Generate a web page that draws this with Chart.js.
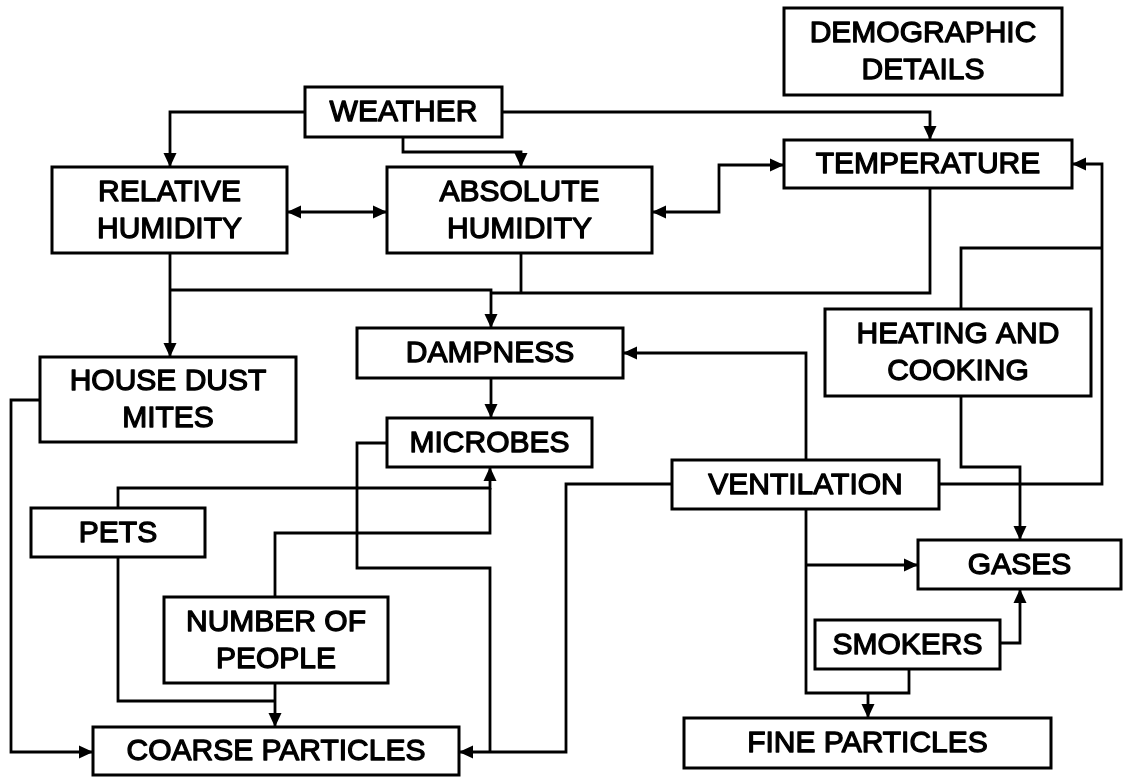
<!DOCTYPE html>
<html lang="en">
<head>
<meta charset="UTF-8" />
<title>Indoor Environment Factors</title>
<style>
  body {
    margin: 0;
    background-color: #ffffff;
  }
  #wrap {
    width: 1125px;
    height: 777px;
    position: relative;
  }
</style>
</head>
<body>
<div id="wrap">
  <canvas id="flowChart" aria-label="Factors affecting indoor particles and gases" role="img"></canvas>
</div>

<script src="https://cdn.jsdelivr.net/npm/chart.js@4"></script>
<script>
  // node boxes: label lines and corners in diagram units (x right, y down)
  const boxLabels = [
    ['DEMOGRAPHIC', 'DETAILS'],
    ['WEATHER'],
    ['TEMPERATURE'],
    ['RELATIVE', 'HUMIDITY'],
    ['ABSOLUTE', 'HUMIDITY'],
    ['HEATING AND', 'COOKING'],
    ['DAMPNESS'],
    ['HOUSE DUST', 'MITES'],
    ['MICROBES'],
    ['VENTILATION'],
    ['PETS'],
    ['GASES'],
    ['NUMBER OF', 'PEOPLE'],
    ['SMOKERS'],
    ['COARSE PARTICLES'],
    ['FINE PARTICLES']
  ];
  const boxLeft   = [784, 305, 784,  52, 387, 825, 357,  40, 387, 672,  31, 918, 164, 815,  93, 684];
  const boxTop    = [  8,  87, 140, 167, 167, 309, 328, 357, 418, 460, 508, 540, 597, 620, 727, 718];
  const boxRight  = [1062, 502, 1072, 287, 652, 1091, 623, 296, 592, 939, 205, 1121, 388, 1000, 459, 1051];
  const boxBottom = [ 95, 137, 188, 253, 253, 396, 378, 442, 467, 509, 557, 589, 683, 669, 775, 768];

  // connectors: polyline points, arrow at start / end
  const connectors = [
    { pts: [[305,112],[170,112],[170,167]], start: false, end: true },
    { pts: [[403,137],[403,152],[521,152],[521,167]], start: false, end: true },
    { pts: [[502,112],[930,112],[930,140]], start: false, end: true },
    { pts: [[287,212],[387,212]], start: true, end: true },
    { pts: [[652,212],[719,212],[719,165],[784,165]], start: true, end: true },
    { pts: [[170,253],[170,357]], start: false, end: true },
    { pts: [[170,290],[491,290],[491,328]], start: false, end: true },
    { pts: [[521,253],[521,293]], start: false, end: false },
    { pts: [[491,293],[930,293],[930,188]], start: false, end: false },
    { pts: [[961,309],[961,248],[1102,248]], start: false, end: false },
    { pts: [[939,484],[1102,484],[1102,164],[1072,164]], start: false, end: true },
    { pts: [[961,396],[961,467],[1020,467],[1020,540]], start: false, end: true },
    { pts: [[806,460],[806,353],[623,353]], start: false, end: true },
    { pts: [[672,484],[566,484],[566,752],[459,752]], start: false, end: true },
    { pts: [[806,509],[806,693],[909,693],[909,669]], start: false, end: false },
    { pts: [[806,565],[918,565]], start: false, end: true },
    { pts: [[868,693],[868,718]], start: false, end: true },
    { pts: [[1000,643],[1020,643],[1020,589]], start: false, end: true },
    { pts: [[491,378],[491,418]], start: false, end: true },
    { pts: [[387,443],[357,443],[357,568],[490,568],[490,752]], start: false, end: false },
    { pts: [[118,508],[118,488],[490,488],[490,467]], start: false, end: true },
    { pts: [[275,597],[275,533],[490,533],[490,488]], start: false, end: false },
    { pts: [[118,557],[118,701],[275,701]], start: false, end: false },
    { pts: [[275,683],[275,727]], start: false, end: true },
    { pts: [[40,400],[11,400],[11,752],[93,752]], start: false, end: true }
  ];

  const datasets = [];
  boxLabels.forEach((lbl, i) => {
    datasets.push({
      label: lbl.join(' '),
      data: [
        { x: boxLeft[i], y: boxTop[i] },
        { x: boxRight[i], y: boxTop[i] },
        { x: boxRight[i], y: boxBottom[i] },
        { x: boxLeft[i], y: boxBottom[i] },
        { x: boxLeft[i], y: boxTop[i] }
      ],
      showLine: true,
      borderColor: '#000',
      borderWidth: 3,
      borderCapStyle: 'square',
      borderJoinStyle: 'miter',
      pointRadius: 0,
      fill: false
    });
  });
  connectors.forEach((c, i) => {
    datasets.push({
      label: 'link' + i,
      data: c.pts.map(p => ({ x: p[0], y: p[1] })),
      showLine: true,
      borderColor: '#000',
      borderWidth: 2.8,
      borderCapStyle: 'butt',
      borderJoinStyle: 'miter',
      pointRadius: 0,
      fill: false,
      arrowStart: c.start,
      arrowEnd: c.end
    });
  });

  function drawHead(ctx, tip, from) {
    const dx = tip.x - from.x, dy = tip.y - from.y;
    const len = Math.hypot(dx, dy) || 1;
    const ux = dx / len, uy = dy / len;
    const L = 14, W = 6.5;
    ctx.beginPath();
    ctx.moveTo(tip.x, tip.y);
    ctx.lineTo(tip.x - ux * L - uy * W, tip.y - uy * L + ux * W);
    ctx.lineTo(tip.x - ux * L + uy * W, tip.y - uy * L - ux * W);
    ctx.closePath();
    ctx.fill();
  }

  const diagramPlugin = {
    id: 'diagram',
    afterDatasetsDraw(chart) {
      const ctx = chart.ctx;
      const xs = chart.scales.x, ys = chart.scales.y;
      const px = p => ({ x: xs.getPixelForValue(p.x), y: ys.getPixelForValue(p.y) });
      ctx.save();
      ctx.fillStyle = '#000';
      chart.data.datasets.forEach(ds => {
        if (!ds.arrowStart && !ds.arrowEnd) return;
        const d = ds.data;
        if (ds.arrowEnd) drawHead(ctx, px(d[d.length - 1]), px(d[d.length - 2]));
        if (ds.arrowStart) drawHead(ctx, px(d[0]), px(d[1]));
      });

      // box labels
      ctx.font = '30px "Liberation Sans", Arial, sans-serif';
      ctx.textAlign = 'center';
      ctx.textBaseline = 'middle';
      ctx.strokeStyle = '#000';
      ctx.lineWidth = 1.3;
      ctx.lineJoin = 'round';
      boxLabels.forEach((lines, i) => {
        const cx = (xs.getPixelForValue(boxLeft[i]) + xs.getPixelForValue(boxRight[i])) / 2;
        const top = ys.getPixelForValue(boxTop[i]);
        const bot = ys.getPixelForValue(boxBottom[i]);
        const mid = (top + bot) / 2;
        const gap = 37;
        lines.forEach((t, k) => {
          const y = mid + (k - (lines.length - 1) / 2) * gap + 1;
          ctx.fillText(t, cx, y);
          ctx.strokeText(t, cx, y);
        });
      });
      ctx.restore();
    }
  };

  new Chart(document.getElementById('flowChart').getContext('2d'), {
    type: 'scatter',
    data: { datasets },
    options: {
      responsive: true,
      maintainAspectRatio: false,
      animation: false,
      layout: { padding: 0 },
      scales: {
        x: { type: 'linear', display: false, min: 0, max: 1125 },
        y: { type: 'linear', display: false, min: 0, max: 777, reverse: true }
      },
      plugins: {
        legend: { display: false },
        tooltip: { enabled: false }
      }
    },
    plugins: [diagramPlugin]
  });
</script>
</body>
</html>
